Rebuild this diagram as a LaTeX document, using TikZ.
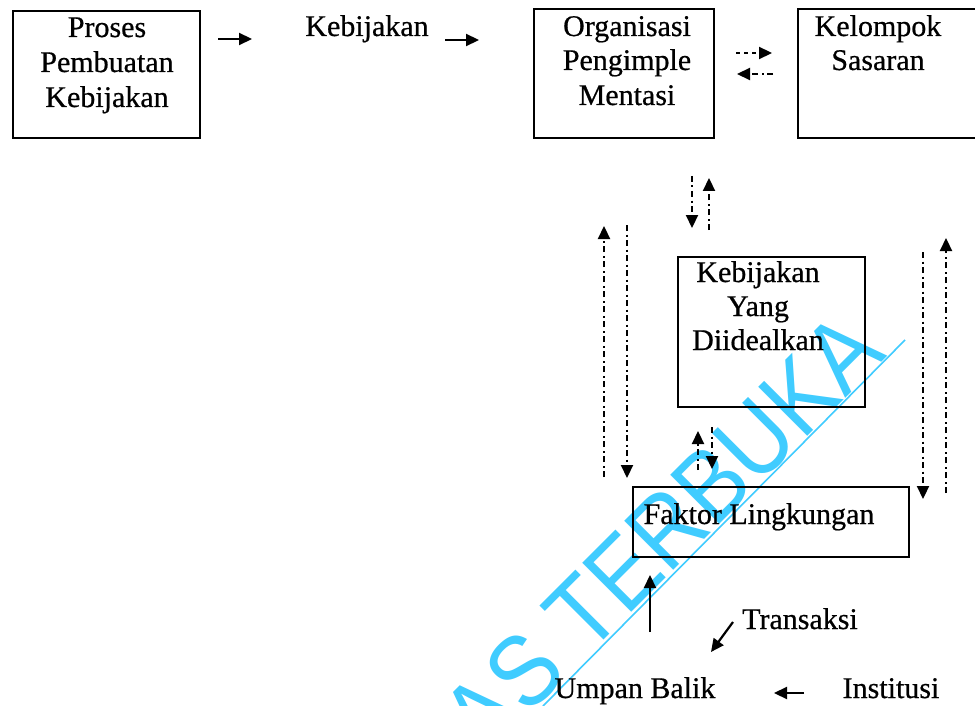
\documentclass[tikz,border=0pt]{standalone}
\usepackage{fontspec}
\setmainfont{Liberation Serif}[FakeBold=0.6]
\newfontfamily\wmfont{Liberation Sans}
\usetikzlibrary{arrows.meta}
\definecolor{wmblue}{RGB}{64,204,255}
\begin{document}
\begin{tikzpicture}[x=1pt,y=-1pt,
  lbl/.style={font=\fontsize{30}{35}\selectfont, inner sep=0pt, anchor=base},
  panel/.style={draw, line width=2pt, inner sep=0pt, anchor=north west},
  tip/.style={-{Triangle[length=13pt,width=12pt]}},
  solidarr/.style={tip, line width=2.2pt},
  dasharr/.style={tip, line width=2.2pt, dash pattern=on 4pt off 4pt},
  dotdasharr/.style={tip, line width=2.2pt, dash pattern=on 6pt off 3.5pt on 2pt off 3.5pt},
  wm/.style={font=\wmfont\fontsize{90}{100}\selectfont, text=wmblue, inner sep=0pt}]
\useasboundingbox (0,0) rectangle (975,706);
\clip (0,0) rectangle (975,706);
\fill[white] (0,0) rectangle (975,706);

% boxes
\node[panel, minimum width=187pt, minimum height=127pt] (proses) at (12,10) {};
\node[panel, minimum width=180pt, minimum height=129pt] (org) at (533,8) {};
\node[panel, minimum width=195pt, minimum height=129pt] (kel) at (797,8) {};
\node[panel, minimum width=187pt, minimum height=150pt] (ideal) at (677,256) {};
\node[panel, minimum width=276pt, minimum height=70pt] (faktor) at (632,486) {};

% texts
\node[lbl] (p1) at (107,37) {Proses};
\node[lbl] (p2) at (107,72) {Pembuatan};
\node[lbl] (p3) at (107,107) {Kebijakan};
\node[lbl] (kb) at (367,36) {Kebijakan};
\node[lbl] (o1) at (627,36) {Organisasi};
\node[lbl] (o2) at (627,70) {Pengimple};
\node[lbl] (o3) at (627,105) {Mentasi};
\node[lbl] (k1) at (878,36) {Kelompok};
\node[lbl] (k2) at (878,70) {Sasaran};
\node[lbl] (i1) at (758,282) {Kebijakan};
\node[lbl] (i2) at (758,316) {Yang};
\node[lbl] (i3) at (758,350) {Diidealkan};
\node[lbl] (fl) at (759,524) {Faktor Lingkungan};
\node[lbl] (tr) at (800,629) {Transaksi};
\node[lbl] (ub) at (635,698) {Umpan Balik};
\node[lbl] (in) at (891,698) {Institusi};

% arrow end points
\coordinate (a1s) at (218,39);  \coordinate (a1e) at (252,39);
\coordinate (a2s) at (445,40);  \coordinate (a2e) at (479,40);
\coordinate (a3s) at (736,53);  \coordinate (a3e) at (772,53);
\coordinate (a4s) at (773,74);  \coordinate (a4e) at (737,74);
\coordinate (a5s) at (692,176); \coordinate (a5e) at (692,228);
\coordinate (a6s) at (709,230); \coordinate (a6e) at (709,178);
\coordinate (a7s) at (604,477); \coordinate (a7e) at (604,226);
\coordinate (a8s) at (627,225); \coordinate (a8e) at (627,478);
\coordinate (a9s) at (923,252); \coordinate (a9e) at (923,499);
\coordinate (a10s) at (946,493); \coordinate (a10e) at (946,238);
\coordinate (a11s) at (698,470); \coordinate (a11e) at (698,431);
\coordinate (a12s) at (712,427); \coordinate (a12e) at (712,469);
\coordinate (a13s) at (650,632); \coordinate (a13e) at (650,575);
\coordinate (a14s) at (733,622); \coordinate (a14e) at (711,652);
\coordinate (a15s) at (804,693); \coordinate (a15e) at (774,693);

\draw[solidarr] (a1s) -- (a1e);
\draw[solidarr] (a2s) -- (a2e);
\draw[dasharr] (a3s) -- (a3e);
\draw[dotdasharr] (a4s) -- (a4e);
\draw[dotdasharr] (a5s) -- (a5e);
\draw[dotdasharr] (a6s) -- (a6e);
\draw[dotdasharr] (a7s) -- (a7e);
\draw[dotdasharr] (a8s) -- (a8e);
\draw[dotdasharr] (a9s) -- (a9e);
\draw[dotdasharr] (a10s) -- (a10e);
\draw[dotdasharr] (a11s) -- (a11e);
\draw[dotdasharr] (a12s) -- (a12e);
\draw[solidarr] (a13s) -- (a13e);
\draw[solidarr] (a14s) -- (a14e);
\draw[solidarr] (a15s) -- (a15e);

% stamp across the lower part
\begin{scope}[blend mode=multiply]
  \node[wm, rotate=45, anchor=base east] (stamp) at (888,356)
    {\scalebox{1}[1.12]{UNIVERSITAS TERBUKA}};
  \coordinate (rulea) at (543,706);
  \coordinate (ruleb) at (905,340);
  \draw[wmblue, line width=1.6pt] (rulea) -- (ruleb);
\end{scope}
\end{tikzpicture}
\end{document}
